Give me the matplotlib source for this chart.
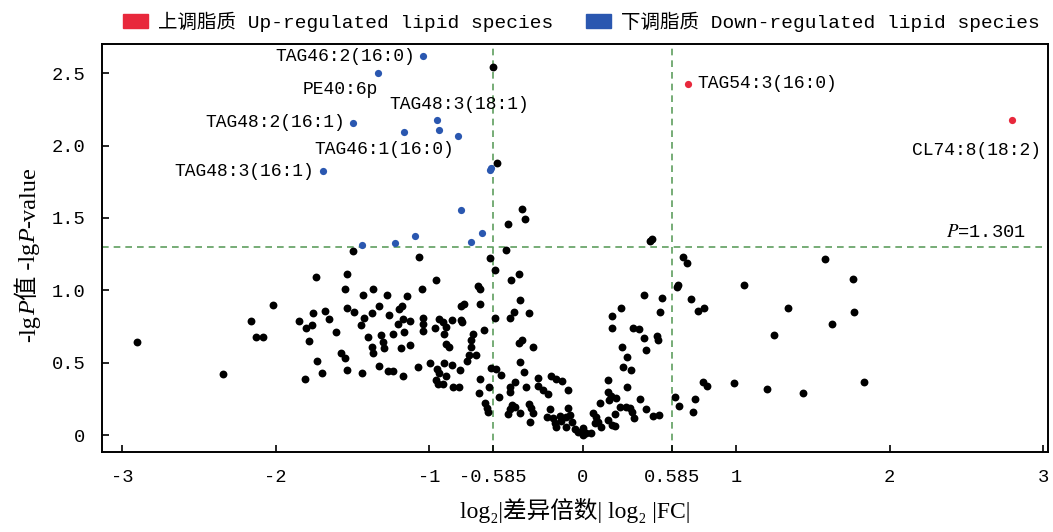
import numpy as np
import matplotlib
matplotlib.use('Agg')
import matplotlib.pyplot as plt
from matplotlib.patches import Patch

# cut-offs
fc_cut = 0.585
p_cut = 1.301

# up-regulated (red) points
up_x = [0.685, 2.800]
up_y = [2.427, 2.174]
up_names = ['TAG54:3(16:0)', 'CL74:8(18:2)']

# down-regulated (blue) points
down_x = [-1.039, -1.336, -1.494, -0.948, -0.935, -1.163, -0.811, -1.694,
          -0.605, -0.594, -0.794, -0.653, -0.727, -1.093, -1.221, -1.438]
down_y = [2.616, 2.501, 2.156, 2.178, 2.109, 2.091, 2.063, 1.821,
          1.828, 1.844, 1.556, 1.399, 1.337, 1.376, 1.330, 1.314]
down_names = ['TAG46:2(16:0)', 'PE40:6p', 'TAG48:2(16:1)', 'TAG48:3(18:1)', '',
              'TAG46:1(16:0)', '', 'TAG48:3(16:1)', '', '', '', '', '', '', '', '']

# not significant (black) points
ns_x = [-2.90, -2.34, -2.16, -2.13, -2.08, -2.02, -1.85, -1.81, -1.80, -1.78,
        -1.76, -1.755, -1.74, -1.73, -1.70, -1.68, -1.65, -1.605, -1.575, -1.546,
        -1.535, -1.548, -1.537, -1.535, -1.498, -1.492, -1.444, -1.44, -1.433, -1.423,
        -1.397, -1.373, -1.366, -1.364, -1.371, -1.329, -1.329, -1.314, -1.303, -1.295,
        -1.277, -1.269, -1.264, -1.238, -1.232, -1.202, -1.195, -1.178, -1.18, -1.173,
        -1.169, -1.165, -1.143, -1.126, -1.124, -1.071, -1.065, -1.046, -1.043, -1.039,
        -1.039, -0.991, -0.963, -0.952, -0.946, -0.933, -0.954, -0.939, -0.909, -0.937,
        -0.909, -0.893, -0.902, -0.887, -0.872, -0.887, -0.902,
        -0.584, -0.555, -0.395, -0.373, -0.483, -0.496, -0.605, -0.574, -0.416, -0.464,
        -0.681, -0.670,
        0.436, 0.453, 0.657, 0.679, 0.623, 0.616, 0.403, 0.519, 0.707, 0.750,
        0.794, 1.054, 1.340, 1.581, 1.622, 1.249, 0.984, 1.202, 1.438, 0.783,
        0.811, 0.601, 0.631, 0.733, 0.716, 1.761, 1.770, 1.833,
        0.247, 0.193, 0.191, 0.327, 0.366, 0.397, 0.486, 0.494, 0.506, 0.258,
        0.414, 0.288, 0.265, 0.312, 0.165, 0.291, 0.165, 0.187, 0.171, 0.215,
        0.111, 0.371, 0.241, 0.284, 0.306, 0.323, 0.208, 0.338, 0.414, 0.457,
        0.496, 0.067, 0.089, 0.100, 0.078, 0.117, 0.165, 0.191, 0.208, 0.057,
        -0.789, -0.774, -0.848, -0.792, -0.783, -0.666, -0.571, -0.644, -0.711, -0.724,
        -0.729, -0.692, -0.742, -0.753, -0.848, -0.800, -0.844, -0.805, -0.670, -0.610,
        -0.675, -0.633, -0.623, -0.616, -0.594, -0.561, -0.534, -0.545, -0.408, -0.449,
        -0.475, -0.349, -0.397, -0.416, -0.323, -0.408, -0.384, -0.440, -0.470, -0.475,
        -0.371, -0.293, -0.291, -0.260, -0.226, -0.204, -0.176, -0.132, -0.098, -0.462,
        -0.440, -0.475, -0.488, -0.405, -0.349, -0.334, -0.323, -0.345, -0.215, -0.232,
        -0.193, -0.182, -0.171, -0.150, -0.139, -0.111, -0.096, -0.080, -0.106, -0.067,
        -0.052, -0.031, 0.002, 0.024, 0.002]
ns_y = [0.64, 0.42, 0.79, 0.68, 0.68, 0.90, 0.79, 0.39, 0.74, 0.65,
        0.76, 0.84, 1.09, 0.51, 0.43, 0.86, 0.80, 0.71, 0.57, 0.53,
        0.45, 1.01, 1.11, 0.88, 1.27, 0.85, 0.76, 0.43, 0.97, 0.81,
        0.68, 0.61, 0.565, 1.01, 0.84, 0.89, 0.48, 0.69, 0.645, 0.60,
        0.97, 0.44, 0.83, 0.70, 0.44, 0.77, 0.87, 0.89, 0.60, 0.41,
        0.80, 0.715, 0.96, 0.79, 0.62, 0.47, 1.23, 1.01, 0.81, 0.77,
        0.72, 0.50, 0.74, 1.07, 0.46, 0.43, 0.38, 0.35, 0.35, 0.80,
        0.78, 0.75, 0.70, 0.63, 0.61, 0.41, 0.50,
        2.54, 1.88, 1.56, 1.49, 1.46, 1.28, 1.22, 1.14, 1.11, 1.07,
        1.03, 1.01,
        1.34, 1.355, 1.23, 1.19, 1.04, 1.02, 0.97, 0.95, 0.94, 0.86,
        0.88, 1.04, 0.88, 1.215, 0.77, 0.69, 0.36, 0.32, 0.29, 0.37,
        0.34, 0.265, 0.20, 0.25, 0.16, 1.08, 0.85, 0.37,
        0.88, 0.825, 0.74, 0.74, 0.73, 0.67, 0.685, 0.66, 0.85, 0.61,
        0.59, 0.54, 0.47, 0.45, 0.38, 0.33, 0.30, 0.27, 0.24, 0.254,
        0.22, 0.25, 0.196, 0.196, 0.185, 0.16, 0.145, 0.115, 0.18, 0.13,
        0.14, 0.15, 0.127, 0.092, 0.081, 0.057, 0.104, 0.069, 0.062, 0.012,
        0.89, 0.906, 0.795, 0.795, 0.78, 0.906, 0.807, 0.724, 0.696, 0.657,
        0.611, 0.553, 0.551, 0.512, 0.484, 0.45, 0.334, 0.33, 0.389, 0.334,
        0.288, 0.219, 0.185, 0.159, 0.461, 0.459, 0.413, 0.265, 0.934, 0.851,
        0.807, 0.846, 0.657, 0.634, 0.607, 0.507, 0.436, 0.364, 0.334, 0.299,
        0.334, 0.392, 0.339, 0.311, 0.281, 0.406, 0.389, 0.376, 0.311, 0.207,
        0.192, 0.178, 0.143, 0.154, 0.212, 0.185, 0.150, 0.092, 0.180, 0.127,
        0.120, 0.081, 0.057, 0.131, 0.097, 0.127, 0.185, 0.138, 0.057, 0.092,
        0.039, 0.023, 0.046, 0.012, 0.0]

xticks = [-3, -2, -1, -0.585, 0, 0.585, 1, 2, 3]
xtick_labels = ['-3', '-2', '-1', '-0.585', '0', '0.585', '1', '2', '3']
yticks = [0, 0.5, 1.0, 1.5, 2.0, 2.5]
ytick_labels = ['0', '0.5', '1.0', '1.5', '2.0', '2.5']

plt.rcParams['axes.unicode_minus'] = False
plt.rcParams['mathtext.fontset'] = 'stix'
mono = ['Liberation Mono', 'Noto Sans CJK SC']
serif = ['Liberation Serif', 'DejaVu Serif', 'Noto Sans CJK SC']
plt.rcParams['font.family'] = mono

red = '#e8283c'
blue = '#2a57b0'
green = '#5f9e5f'

fig = plt.figure(figsize=(10.53, 5.32), dpi=100)
ax = fig.add_axes([0.097, 0.150, 0.898, 0.767])

ax.scatter(ns_x, ns_y, s=32, c='black', linewidths=0, zorder=3)
ax.scatter(down_x, down_y, s=27, c=blue, linewidths=0, zorder=3)
ax.scatter(up_x, up_y, s=27, c=red, linewidths=0, zorder=3)

for v in (-fc_cut, fc_cut):
    ax.axvline(v, color=green, ls=(0, (4, 3)), lw=1.2, zorder=1)
ax.axhline(p_cut, color=green, ls=(0, (4, 3)), lw=1.2, zorder=1)

# label offsets in points
offsets = {
    'TAG46:2(16:0)': (-6, 0, 'right'),
    'PE40:6p': (-27, -12, 'center'),
    'TAG48:2(16:1)': (-6, 0, 'right'),
    'TAG48:3(18:1)': (16, 11, 'center'),
    'TAG46:1(16:0)': (-14, -12, 'center'),
    'TAG48:3(16:1)': (-6, 0, 'right'),
    'TAG54:3(16:0)': (7, 0, 'left'),
    'CL74:8(18:2)': (-26, -22, 'center'),
}
for xs, ys, names in ((down_x, down_y, down_names), (up_x, up_y, up_names)):
    for x, y, n in zip(xs, ys, names):
        if not n:
            continue
        dx, dy, ha = offsets[n]
        ax.annotate(n, (x, y), xytext=(dx, dy), textcoords='offset points',
                    ha=ha, va='center', fontsize=13)

ax.text(2.89, 1.37, '$P$=1.301', ha='right', va='baseline', fontsize=13.5)

ax.set_xlim(-3.13, 3.03)
ax.set_ylim(-0.118, 2.70)
ax.set_xticks(xticks)
ax.set_xticklabels(xtick_labels)
ax.set_yticks(yticks)
ax.set_yticklabels(ytick_labels)
ax.tick_params(direction='in', length=5, width=1.2, labelsize=13.5)
ax.tick_params(axis='x', pad=12)
ax.tick_params(axis='y', pad=12)
for s in ax.spines.values():
    s.set_linewidth(1.4)

ax.set_xlabel('log₂|差异倍数| log₂ |FC|', family=serif, fontsize=17, labelpad=9)

# y label built from pieces so P can be italic
pieces = [('-lg', 'normal'), ('P', 'italic'), ('值 -lg', 'normal'),
          ('P', 'italic'), ('-value', 'normal')]
prev = fig.text(0.028, 1 - 342 / 532, pieces[0][0], rotation=90, ha='center',
                va='bottom', family=serif, fontsize=17.5)
for txt, st in pieces[1:]:
    prev = ax.annotate(txt, xy=(1.0, 1.0), xycoords=prev, ha='right', va='bottom',
                       rotation=90, family=serif, fontsize=17.5, style=st,
                       annotation_clip=False)

handles = [Patch(color=red, label='上调脂质 Up-regulated lipid species'),
           Patch(color=blue, label='下调脂质 Down-regulated lipid species')]
fig.legend(handles=handles, loc='center', bbox_to_anchor=(0.552, 0.959), ncol=2,
           frameon=False, prop={'family': mono, 'size': 14}, handlelength=1.3,
           handleheight=0.75, handletextpad=0.5, columnspacing=1.7)

fig.savefig('out.png', dpi=100)
